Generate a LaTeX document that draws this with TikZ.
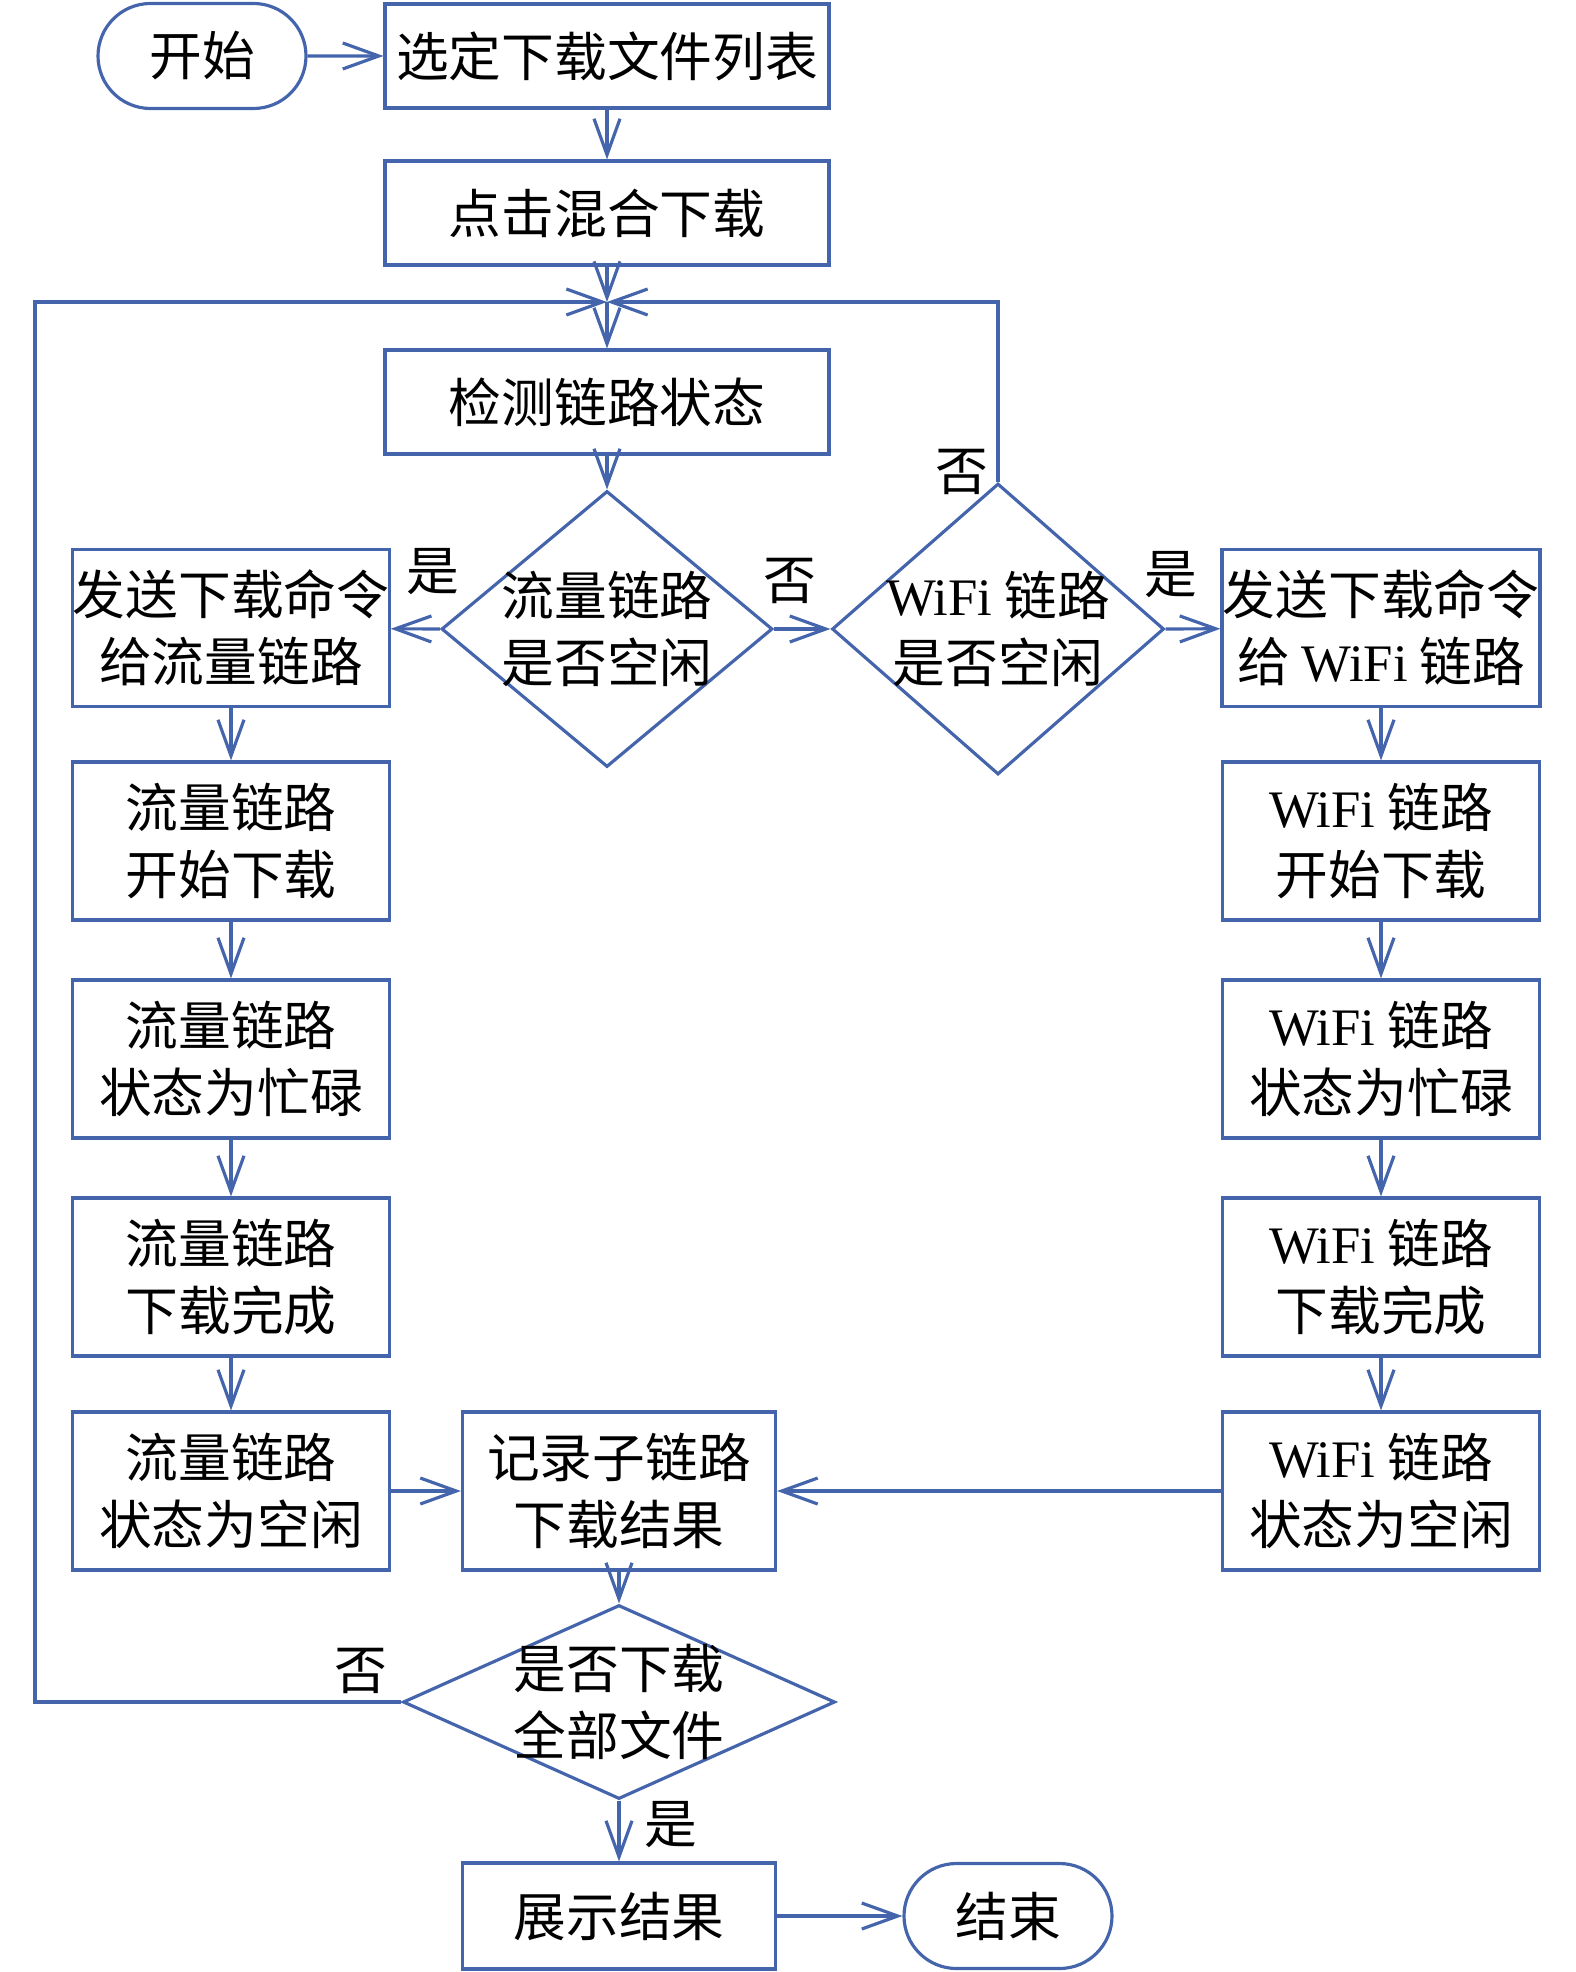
\documentclass[tikz,border=0pt]{standalone}
\usepackage{fontspec}
\setmainfont{Noto Sans CJK SC}
\newfontfamily\wififont{Liberation Serif}
\newcommand{\wifi}{{\wififont WiFi}}
\usetikzlibrary{arrows.meta,shapes.geometric,shapes.misc}
\definecolor{lineblue}{RGB}{68,100,172}
\tikzset{
  box/.style={draw=lineblue,line width=0.9pt,rectangle,inner sep=0pt,align=center,
    minimum width=3.17cm,minimum height=1.58cm,font=\fontsize{15}{19}\selectfont},
  widebox/.style={box,minimum width=4.44cm,minimum height=1.04cm},
  terminal/.style={draw=lineblue,line width=0.9pt,rounded rectangle,inner sep=0pt,
    minimum width=2.08cm,minimum height=1.05cm,font=\fontsize{15}{19}\selectfont},
  decision/.style={draw=lineblue,line width=0.9pt,diamond,inner sep=0pt,
    label={[align=center,font=\fontsize{15}{19}\selectfont]center:#1}},
  answer/.style={font=\fontsize{15}{19}\selectfont,inner sep=0pt},
  arr/.style={draw=lineblue,line width=0.9pt,-{Straight Barb[length=3.6mm,width=2.6mm]}}
}
\begin{document}
\begin{tikzpicture}
\useasboundingbox (0,0) rectangle (15.75,-19.72);
% top part
\node [terminal] (start) at (2.02,-0.56) {开始};
\node [widebox] (select) at (6.07,-0.56) {选定下载文件列表};
\node [widebox] (click) at (6.07,-2.13) {点击混合下载};
\node [widebox] (detect) at (6.07,-4.02) {检测链路状态};
\coordinate (join) at (6.07,-3.02);
\node [decision={流量链路\\是否空闲},minimum width=3.31cm,minimum height=2.76cm] (mobfree) at (6.07,-6.29) {};
\node [decision={\wifi{} 链路\\是否空闲},minimum width=3.32cm,minimum height=2.91cm] (wififree) at (9.98,-6.29) {};
% left column
\node [box,minimum width=3.09cm,minimum height=1.57cm] (mobsend) at (2.31,-6.28) {发送下载命令\\给流量链路};
\node [box] (mobstart) at (2.31,-8.41) {流量链路\\开始下载};
\node [box] (mobbusy) at (2.31,-10.59) {流量链路\\状态为忙碌};
\node [box] (mobdone) at (2.31,-12.77) {流量链路\\下载完成};
\node [box] (mobidle) at (2.31,-14.91) {流量链路\\状态为空闲};
% right column
\node [box,minimum width=3.18cm,minimum height=1.57cm] (wifisend) at (13.81,-6.28) {发送下载命令\\给 \wifi{} 链路};
\node [box] (wifistart) at (13.81,-8.41) {\wifi{} 链路\\开始下载};
\node [box] (wifibusy) at (13.81,-10.59) {\wifi{} 链路\\状态为忙碌};
\node [box] (wifidone) at (13.81,-12.77) {\wifi{} 链路\\下载完成};
\node [box] (wifiidle) at (13.81,-14.91) {\wifi{} 链路\\状态为空闲};
% bottom part
\node [box,minimum width=3.13cm] (record) at (6.19,-14.91) {记录子链路\\下载结果};
\node [decision={是否下载\\全部文件},minimum width=4.32cm,minimum height=1.94cm] (alldone) at (6.19,-17.02) {};
\node [box,minimum width=3.13cm,minimum height=1.06cm] (show) at (6.19,-19.16) {展示结果};
\node [terminal] (stop) at (10.08,-19.16) {结束};
\coordinate (back) at (0.35,-17.02);
% answers
\node [answer] (yes1) at (4.33,-5.72) {是};
\node [answer] (no1) at (7.90,-5.81) {否};
\node [answer] (no2) at (9.62,-4.72) {否};
\node [answer] (yes2) at (11.71,-5.75) {是};
\node [answer] (no3) at (3.61,-16.71) {否};
\node [answer] (yes3) at (6.71,-18.25) {是};
% connectors
\draw [arr] (start) -- (select);
\draw [arr] (select) -- (click);
\draw [arr] (click) -- (join);
\draw [arr] (join) -- (detect);
\draw [arr] (detect) -- (mobfree.north);
\draw [arr] (mobfree.west) -- (mobsend);
\draw [arr] (mobfree.east) -- (wififree.west);
\draw [arr] (wififree.east) -- (wifisend);
\draw [arr] (wififree.north) |- (join);
\draw [arr] (mobsend) -- (mobstart);
\draw [arr] (mobstart) -- (mobbusy);
\draw [arr] (mobbusy) -- (mobdone);
\draw [arr] (mobdone) -- (mobidle);
\draw [arr] (wifisend) -- (wifistart);
\draw [arr] (wifistart) -- (wifibusy);
\draw [arr] (wifibusy) -- (wifidone);
\draw [arr] (wifidone) -- (wifiidle);
\draw [arr] (mobidle) -- (record);
\draw [arr] (wifiidle) -- (record);
\draw [arr] (record) -- (alldone.north);
\draw [arr] (alldone.west) -- (back) |- (join);
\draw [arr] (alldone.south) -- (show);
\draw [arr] (show) -- (stop);
\end{tikzpicture}
\end{document}
